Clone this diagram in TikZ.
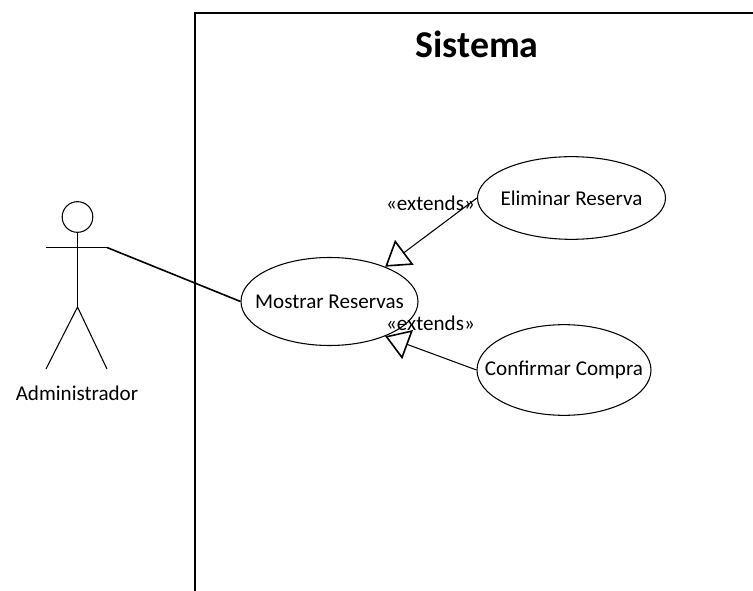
\documentclass[tikz,border=0pt]{standalone}
\usepackage{fontspec}
\setmainfont{Carlito}
\usepackage{tikz}
\usetikzlibrary{shapes.geometric,arrows.meta}

\tikzset{
  usecase/.style={draw,ellipse,inner xsep=-16pt,inner ysep=0pt,line width=0.8pt,font=\fontsize{15.8}{19}\selectfont},
  extends/.style={line width=0.8pt,-{Triangle[open,length=18pt,width=23pt,line width=1.2pt]}},
  stick/.style={line width=0.8pt},
  lbl/.style={font=\fontsize{15.8}{19}\selectfont}
}

\begin{document}
\begin{tikzpicture}[x=0.75pt,y=-0.75pt]
    \useasboundingbox (0,0) rectangle (753,591);
    % system frame, open on the right and at the bottom
    \draw[line width=1.4pt] (195,591) -- (195,13) -- (753,13);
    \node[font=\fontsize{28.4}{34}\bfseries\selectfont] (Sistema) at (477,44.5) {Sistema};

    % actor
    \node[draw,circle,inner sep=0pt,minimum size=23pt,line width=0.8pt] (Head) at (77.5,217) {};
    \coordinate (Hip) at (77.5,307);
    \coordinate (ArmL) at (46,247.5);
    \coordinate (ArmR) at (107,247.5);
    \coordinate (FootL) at (46,369);
    \coordinate (FootR) at (107,369);
    \draw[stick] (Head) -- (Hip);
    \draw[stick] (ArmL) -- (ArmR);
    \draw[stick] (FootL) -- (Hip) -- (FootR);
    \node[lbl] (Admin) at (77,393) {Administrador};

    % use cases
    \node[usecase,minimum width=132.75pt,minimum height=66pt] (Mostrar) at (329.5,301.5) {Mostrar Reservas};
    \node[usecase,minimum width=141pt,minimum height=62pt] (Eliminar) at (571.5,198) {Eliminar Reserva};
    \node[usecase,minimum width=130.5pt,minimum height=68pt] (Confirmar) at (564,370) {Confirmar Compra};

    \draw[line width=1.2pt] (ArmR) -- (Mostrar.west);
    \draw[extends] (Eliminar.west) -- (Mostrar.32);
    \draw[extends] (Confirmar.west) -- (Mostrar.-32);
    \node[lbl] (ExtA) at (430.5,203) {«extends»};
    \node[lbl] (ExtB) at (430.5,323) {«extends»};
\end{tikzpicture}
\end{document}
